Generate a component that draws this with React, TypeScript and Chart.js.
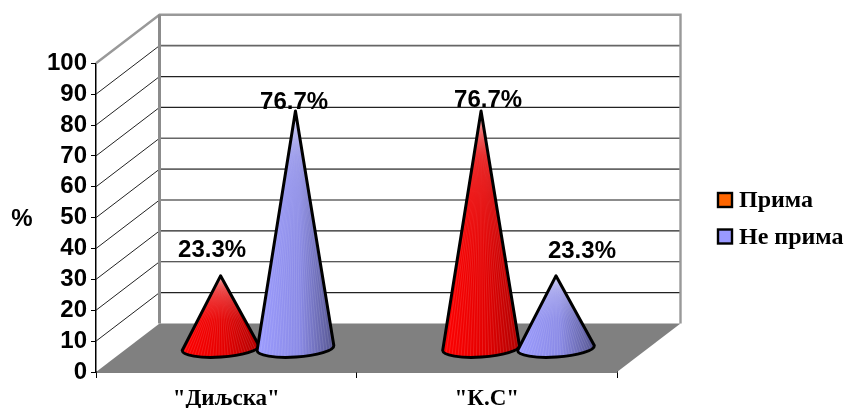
import React, { useEffect, useRef } from "react";
import { Chart, registerables } from "chart.js";

Chart.register(...registerables);

const categories = ['"Диљска"', '"К.С"'];
const seriesNames = ["Прима", "Не прима"];
const prima = [23.3, 76.7];
const nePrima = [76.7, 23.3];
const legendColors = ["#FF6600", "#9999FF"];
const coneLeft = ["#FF0000", "#9C9CFF"];
const coneMid = ["#E40000", "#8A8AE6"];
const coneRight = ["#B00000", "#55558F"];
const labelOffsets = [
  [[-8.5, -25], [7, -11]],
  [[-1.3, -9], [26, -24]],
];
const softGridValues = [90, 60, 50, 40];

const DEPTH_X = 63.5;
const DEPTH_Y = 48.5;
const ARIAL = '"Liberation Sans", Arial, sans-serif';
const TIMES = '"Liberation Serif", serif';

function drawCone(ctx: CanvasRenderingContext2D, bar: any, ds: number) {
  const cx = bar.x + DEPTH_X / 2;
  const cy = bar.base - DEPTH_Y / 2 + 0.8;
  const tipX = cx;
  const tipY = bar.y - DEPTH_Y / 2;
  const rx = bar.width / 2 + 1;
  const ry = 9;
  const rot = -0.064;
  const lx = cx - rx * Math.cos(rot);
  const ly = cy - rx * Math.sin(rot);
  const path = new Path2D();
  path.moveTo(tipX, tipY);
  path.lineTo(lx, ly);
  path.ellipse(cx, cy, rx, ry, rot, Math.PI, 0, true);
  path.closePath();

  ctx.save();
  const g = ctx.createLinearGradient(cx - rx, 0, cx + rx, 0);
  g.addColorStop(0, coneLeft[ds]);
  g.addColorStop(0.55, coneMid[ds]);
  g.addColorStop(1, coneRight[ds]);
  ctx.fillStyle = g;
  ctx.fill(path);

  ctx.save();
  ctx.clip(path);
  const fade = ctx.createLinearGradient(0, tipY, 0, tipY + 45);
  fade.addColorStop(0, "rgba(255,255,255,0.2)");
  fade.addColorStop(1, "rgba(255,255,255,0)");
  ctx.fillStyle = fade;
  ctx.fillRect(cx - rx - 2, tipY, rx * 2 + 4, cy - tipY);
  ctx.strokeStyle = "rgba(255,255,255,0.15)";
  ctx.lineWidth = 0.8;
  for (let t = -1; t <= 1; t += 0.08) {
    ctx.beginPath();
    ctx.moveTo(tipX, tipY);
    ctx.lineTo(cx + t * rx, cy + ry);
    ctx.stroke();
  }
  ctx.restore();

  ctx.strokeStyle = "#000";
  ctx.lineWidth = 3;
  ctx.lineJoin = "round";
  ctx.stroke(path);
  ctx.restore();
}

const scene3d = {
  id: "scene3d",
  beforeDatasetsDraw(chart: any) {
    const { ctx, scales } = chart;
    const xs = scales.x;
    const ys = scales.y;
    const l = xs.left;
    const r = xs.right;
    const y0 = ys.getPixelForValue(0);
    const y100 = ys.getPixelForValue(100);
    ctx.save();
    ctx.fillStyle = "#808080";
    ctx.beginPath();
    ctx.moveTo(l, y0);
    ctx.lineTo(r, y0);
    ctx.lineTo(r + DEPTH_X, y0 - DEPTH_Y);
    ctx.lineTo(l + DEPTH_X, y0 - DEPTH_Y);
    ctx.closePath();
    ctx.fill();

    ys.ticks.forEach((t: any) => {
      if (t.value === 0 || t.value === 100) return;
      const y = ys.getPixelForValue(t.value);
      ctx.strokeStyle = "#222";
      ctx.lineWidth = 1;
      ctx.beginPath();
      ctx.moveTo(l, y);
      ctx.lineTo(l + DEPTH_X, y - DEPTH_Y);
      ctx.stroke();
      const soft = softGridValues.includes(t.value);
      ctx.strokeStyle = soft ? "#666" : "#222";
      ctx.lineWidth = soft ? 1.6 : 1.2;
      ctx.beginPath();
      ctx.moveTo(l + DEPTH_X, y - DEPTH_Y);
      ctx.lineTo(r + DEPTH_X, y - DEPTH_Y);
      ctx.stroke();
    });

    ctx.strokeStyle = "#999";
    ctx.lineWidth = 2.4;
    ctx.beginPath();
    ctx.moveTo(l, y100);
    ctx.lineTo(l + DEPTH_X, y100 - DEPTH_Y);
    ctx.lineTo(r + DEPTH_X, y100 - DEPTH_Y);
    ctx.lineTo(r + DEPTH_X, y0 - DEPTH_Y);
    ctx.stroke();
    ctx.lineWidth = 3;
    ctx.strokeStyle = "#8c8c8c";
    ctx.beginPath();
    ctx.moveTo(l + DEPTH_X, y100 - DEPTH_Y);
    ctx.lineTo(l + DEPTH_X, y0 - DEPTH_Y);
    ctx.stroke();
    ctx.restore();
  },
  beforeDatasetDraw() {
    return false;
  },
  afterDatasetsDraw(chart: any) {
    const { ctx } = chart;
    const metas = chart.data.datasets.map((_: any, i: number) => chart.getDatasetMeta(i));
    metas.forEach((meta: any, ds: number) => {
      meta.data.forEach((bar: any) => drawCone(ctx, bar, ds));
    });
    ctx.save();
    ctx.fillStyle = "#000";
    ctx.font = `bold 24px ${ARIAL}`;
    ctx.textAlign = "center";
    ctx.textBaseline = "middle";
    metas.forEach((meta: any, ds: number) => {
      meta.data.forEach((bar: any, i: number) => {
        const v = chart.data.datasets[ds].data[i];
        const [ox, oy] = labelOffsets[ds][i];
        ctx.fillText(v.toFixed(1) + "%", bar.x + DEPTH_X / 2 + ox, bar.y - DEPTH_Y / 2 + oy);
      });
    });
    ctx.fillText("%", 22, 219);

    // legend
    ctx.textAlign = "left";
    ctx.font = `bold 24px ${TIMES}`;
    chart.data.datasets.forEach((d: any, i: number) => {
      const top = 193 + i * 36.5;
      ctx.fillStyle = d.backgroundColor;
      ctx.strokeStyle = "#000";
      ctx.lineWidth = 2.4;
      ctx.fillRect(718, top, 14, 14);
      ctx.strokeRect(718, top, 14, 14);
      ctx.fillStyle = "#000";
      ctx.fillText(d.label, 739, top + 8);
    });
    ctx.restore();
  },
};

export default function App() {
  const ref = useRef<HTMLCanvasElement>(null);
  useEffect(() => {
    const chart = new Chart(ref.current!, {
      type: "bar",
      data: {
        labels: categories,
        datasets: [
          { label: seriesNames[0], data: prima, backgroundColor: legendColors[0], borderColor: "#000", borderWidth: 2 },
          { label: seriesNames[1], data: nePrima, backgroundColor: legendColors[1], borderColor: "#000", borderWidth: 2 },
        ],
      },
      plugins: [scene3d],
      options: {
        responsive: false,
        animation: false,
        devicePixelRatio: 1,
        layout: { padding: { top: 63.3, left: 0, right: 0, bottom: 0 } },
        plugins: {
          tooltip: { enabled: false },
          legend: { display: false },
        },
        datasets: { bar: { categoryPercentage: 0.575, barPercentage: 1 } },
        scales: {
          x: {
            grid: { drawOnChartArea: false, color: "#000", tickLength: 6, offset: true },
            border: { color: "#000", width: 1.5 },
            ticks: {
              color: "#000",
              padding: 7,
              font: { family: TIMES, weight: "bold", size: 23 },
            },
            afterFit(axis: any) {
              axis.height = 36;
            },
          },
          y: {
            min: 0,
            max: 100,
            ticks: {
              stepSize: 10,
              autoSkip: false,
              color: "#000",
              padding: 4,
              font: { family: ARIAL, weight: "bold", size: 24 },
            },
            grid: { drawOnChartArea: false, color: "#000", tickLength: 5 },
            border: { color: "#000", width: 1.5 },
            afterFit(axis: any) {
              axis.width = 96;
            },
          },
          y2: {
            position: "right",
            display: true,
            min: 0,
            max: 100,
            grid: { display: false },
            border: { display: false },
            ticks: { display: false },
            afterFit(axis: any) {
              axis.width = 229;
            },
          },
        },
      } as any,
    } as any);
    return () => chart.destroy();
  }, []);
  return (
    <div style={{ position: "absolute", left: 0, top: 0, width: 846, height: 408, background: "#fff" }}>
      <canvas ref={ref} width={846} height={408} style={{ display: "block" }} />
    </div>
  );
}
